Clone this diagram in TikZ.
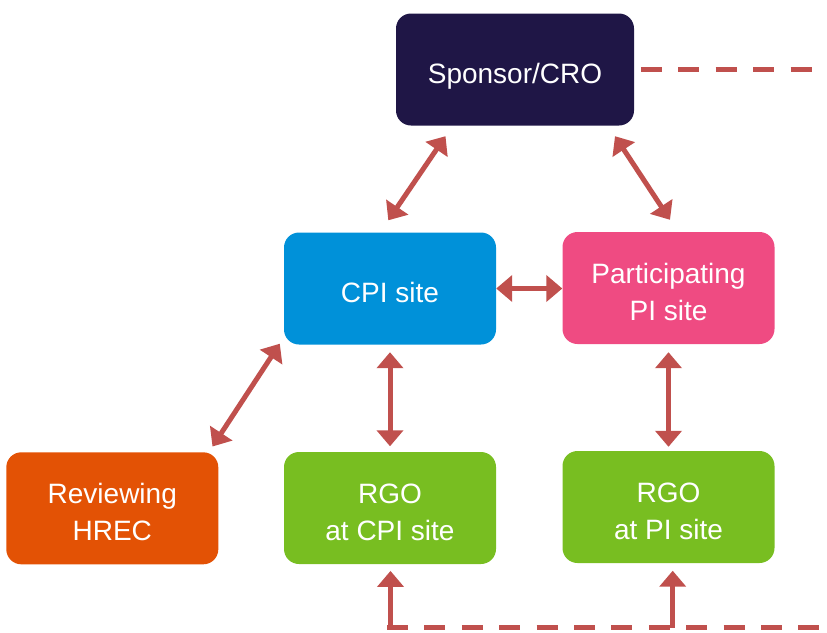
\documentclass[tikz,border=0pt]{standalone}
\usepackage{fontspec}
\setmainfont{Liberation Sans}
\usepackage{tikz}
\usetikzlibrary{positioning, arrows.meta}

\definecolor{sponsorblue}{HTML}{1F1646}
\definecolor{cpiblue}{HTML}{0091D9}
\definecolor{sitepink}{HTML}{EF4B82}
\definecolor{hrecorange}{HTML}{E35205}
\definecolor{rgogreen}{HTML}{78BE21}
\definecolor{linkred}{HTML}{C0504D}

\begin{document}
\begin{tikzpicture}[x=1pt, y=-1pt,
    box/.style={rounded corners=15pt, inner sep=0pt, minimum width=212pt, minimum height=112pt,
        text=white, align=center, font=\fontsize{28}{37}\selectfont,
        text height=27.6pt, text depth=0pt},
    twoline/.style={text height=64.6pt},
    biarrow/.style={draw=linkred, line width=5pt, {Triangle[width=26pt, length=16pt]}-{Triangle[width=26pt, length=16pt]}},
    uparrow/.style={draw=linkred, line width=5pt, -{Triangle[width=26pt, length=16pt]}},
    dashline/.style={draw=linkred, line width=5pt, dash pattern=on 21pt off 16.4pt}]

\useasboundingbox (0,0) rectangle (827,632);

% boxes
\node[box, fill=sponsorblue, minimum width=238pt] (sponsor) at (515, 69.5) {Sponsor/CRO};
\node[box, fill=cpiblue] (cpi) at (390, 288.5) {CPI site};
\node[box, twoline, fill=sitepink] (pisite) at (668.5, 288) {Participating\\PI site};
\node[box, twoline, fill=hrecorange] (hrec) at (112.3, 508.3) {Reviewing\\HREC};
\node[box, twoline, fill=rgogreen] (rgocpi) at (390, 508) {RGO\\at CPI site};
\node[box, twoline, fill=rgogreen] (rgopi) at (668.5, 507) {RGO\\at PI site};

% two-way links
\draw[biarrow] ([shift={(-69.5,10.5)}]sponsor.south) -- ([shift={(-1.7,-12)}]cpi.north);
\draw[biarrow] ([shift={(100,10.5)}]sponsor.south) -- ([shift={(1.5,-12)}]pisite.north);
\draw[biarrow] (cpi.east) -- (cpi.east -| pisite.west);
\draw[biarrow] ([shift={(-4,-1)}]cpi.south west) -- ([shift={(-6,-5.6)}]hrec.north east);
\draw[biarrow, shorten <=7.5pt, shorten >=5.5pt] (cpi) -- (rgocpi);
\draw[biarrow, shorten <=8pt, shorten >=4pt] (pisite) -- (rgopi);

% dashed lines
\coordinate (sponsorout) at (812, 69.5);
\draw[dashline] ([xshift=6.7pt]sponsor.east) -- (sponsorout);

\coordinate (cpibase) at (390.5, 627.5);
\coordinate (pibase) at (672.7, 627.5);
\coordinate (rightend) at (827, 627.5);
\draw[dashline] ([xshift=-3.5pt]cpibase) -- (rightend);
\draw[uparrow, shorten >=6.7pt] (cpibase) -- (cpibase |- rgocpi.south);
\draw[uparrow, shorten >=7.5pt] (pibase) -- (pibase |- rgopi.south);

\end{tikzpicture}
\end{document}
